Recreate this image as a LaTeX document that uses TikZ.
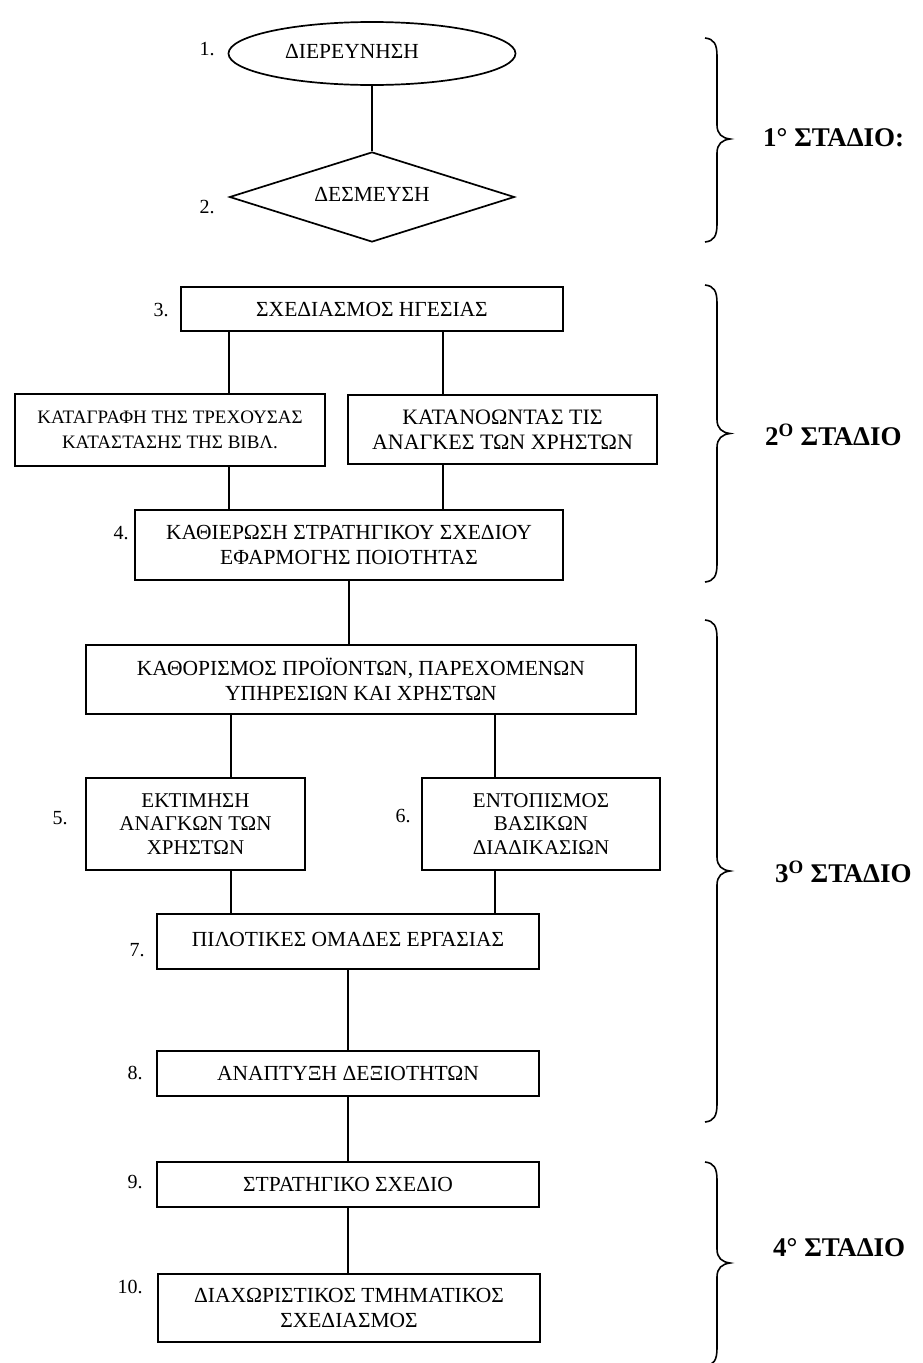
\documentclass[tikz,border=0pt]{standalone}
\usepackage{fontspec}
\setmainfont{Liberation Serif}
\usetikzlibrary{shapes.geometric}
\newcommand{\stagebrace}[3]{%
  \draw[bracepath] (705,#1) .. controls (714,#1+1) and (717,#1+6) .. (717,#1+18)
    -- (717,#2-14) .. controls (717,#2-5) and (722,#2-1) .. (730,#2)
    .. controls (722,#2+1) and (717,#2+5) .. (717,#2+14)
    -- (717,#3-18) .. controls (717,#3-6) and (714,#3-1) .. (705,#3);}
\begin{document}
\begin{tikzpicture}[x=1pt,y=-1pt,
  box/.style={draw, line width=1.7pt, rectangle, inner sep=0pt, align=center,
    font=\fontsize{21.5}{24.5}\selectfont},
  conn/.style={line width=1.7pt},
  num/.style={font=\fontsize{20}{24}\selectfont, inner sep=0pt},
  stage/.style={font=\fontsize{27}{32}\selectfont\bfseries, anchor=west, inner sep=0pt},
  bracepath/.style={line width=1.6pt}]
\useasboundingbox[fill=white] (0,0) rectangle (922,1363);

% stage 1
\node[box, ellipse, minimum width=287, minimum height=63] (e1) at (372,53.5)
  {\raisebox{5pt}{ΔΙΕΡΕΥΝΗΣΗ}\hspace*{40pt}};
\node[box, diamond, aspect=3.17, minimum width=285, minimum height=90] (d2) at (372,197)
  {\raisebox{5pt}{ΔΕΣΜΕΥΣΗ}};
\node[num] (n1) at (207,49) {1.};
\node[num] (n2) at (207,207) {2.};
\draw[conn] (e1.south) -- (d2.north);

% stage 2
\node[box, minimum width=382, minimum height=44] (b3) at (372,309) {ΣΧΕΔΙΑΣΜΟΣ ΗΓΕΣΙΑΣ};
\node[box, minimum width=310, minimum height=72, font=\fontsize{19}{25}\selectfont] (bA) at (170,430)
  {ΚΑΤΑΓΡΑΦΗ ΤΗΣ ΤΡΕΧΟΥΣΑΣ\\ΚΑΤΑΣΤΑΣΗΣ ΤΗΣ ΒΙΒΛ.};
\node[box, minimum width=309, minimum height=69, font=\fontsize{22}{25}\selectfont] (bB) at (502.5,429.5)
  {ΚΑΤΑΝΟΩΝΤΑΣ ΤΙΣ\\ΑΝΑΓΚΕΣ ΤΩΝ ΧΡΗΣΤΩΝ};
\node[box, minimum width=428, minimum height=70] (b4) at (349,545)
  {ΚΑΘΙΕΡΩΣΗ ΣΤΡΑΤΗΓΙΚΟΥ ΣΧΕΔΙΟΥ\\ΕΦΑΡΜΟΓΗΣ ΠΟΙΟΤΗΤΑΣ};
\node[num] (n3) at (161,310) {3.};
\node[num] (n4) at (121,533) {4.};
\coordinate (xL) at (229,0);
\coordinate (xR) at (443,0);
\draw[conn] (b3.south -| xL) -- (bA.north -| xL);
\draw[conn] (b3.south -| xR) -- (bB.north -| xR);
\draw[conn] (bA.south -| xL) -- (b4.north -| xL);
\draw[conn] (bB.south -| xR) -- (b4.north -| xR);

% stage 3
\node[box, minimum width=550, minimum height=69] (bP) at (361,679.5)
  {ΚΑΘΟΡΙΣΜΟΣ ΠΡΟΪΟΝΤΩΝ, ΠΑΡΕΧΟΜΕΝΩΝ\\ΥΠΗΡΕΣΙΩΝ ΚΑΙ ΧΡΗΣΤΩΝ};
\draw[conn] (b4.south) -- (b4.south |- bP.north);
\node[box, minimum width=219, minimum height=92, font=\fontsize{21}{23.5}\selectfont] (b5) at (195.5,824)
  {ΕΚΤΙΜΗΣΗ\\ΑΝΑΓΚΩΝ ΤΩΝ\\ΧΡΗΣΤΩΝ};
\node[box, minimum width=238, minimum height=92, font=\fontsize{21}{23.5}\selectfont] (b6) at (541,824)
  {ΕΝΤΟΠΙΣΜΟΣ\\ΒΑΣΙΚΩΝ\\ΔΙΑΔΙΚΑΣΙΩΝ};
\node[num] (n5) at (60,818) {5.};
\node[num] (n6) at (403,816) {6.};
\coordinate (yL) at (231,0);
\coordinate (yR) at (495,0);
\draw[conn] (bP.south -| yL) -- (b5.north -| yL);
\draw[conn] (bP.south -| yR) -- (b6.north -| yR);
\node[box, minimum width=382, minimum height=55] (b7) at (348,941.5)
  {\raisebox{4pt}{ΠΙΛΟΤΙΚΕΣ ΟΜΑΔΕΣ ΕΡΓΑΣΙΑΣ}};
\node[num] (n7) at (137,950) {7.};
\draw[conn] (b5.south -| yL) -- (b7.north -| yL);
\draw[conn] (b6.south -| yR) -- (b7.north -| yR);
\node[box, minimum width=382, minimum height=45] (b8) at (348,1073.5) {ΑΝΑΠΤΥΞΗ ΔΕΞΙΟΤΗΤΩΝ};
\node[num] (n8) at (135,1073) {8.};
\draw[conn] (b7.south) -- (b7.south |- b8.north);

% stage 4
\node[box, minimum width=382, minimum height=45] (b9) at (348,1184.5) {ΣΤΡΑΤΗΓΙΚΟ ΣΧΕΔΙΟ};
\node[box, minimum width=382, minimum height=68, font=\fontsize{21.5}{25}\selectfont] (b10) at (349,1308)
  {ΔΙΑΧΩΡΙΣΤΙΚΟΣ ΤΜΗΜΑΤΙΚΟΣ\\ΣΧΕΔΙΑΣΜΟΣ};
\node[num] (n9) at (135,1182) {9.};
\node[num] (n10) at (130,1287) {10.};
\draw[conn] (b8.south) -- (b8.south |- b9.north);
\draw[conn] (b9.south) -- (b9.south |- b10.north);

% braces and stage labels
\stagebrace{38}{139}{242}
\stagebrace{285}{433.5}{582}
\stagebrace{620}{871}{1122}
\stagebrace{1162}{1263}{1366}
\node[stage] (s1) at (763,138) {1° ΣΤΑΔΙΟ:};
\node[stage] (s2) at (765,435) {2\textsuperscript{O} ΣΤΑΔΙΟ};
\node[stage] (s3) at (775,872) {3\textsuperscript{O} ΣΤΑΔΙΟ};
\node[stage] (s4) at (773,1248) {4° ΣΤΑΔΙΟ};
\end{tikzpicture}
\end{document}
